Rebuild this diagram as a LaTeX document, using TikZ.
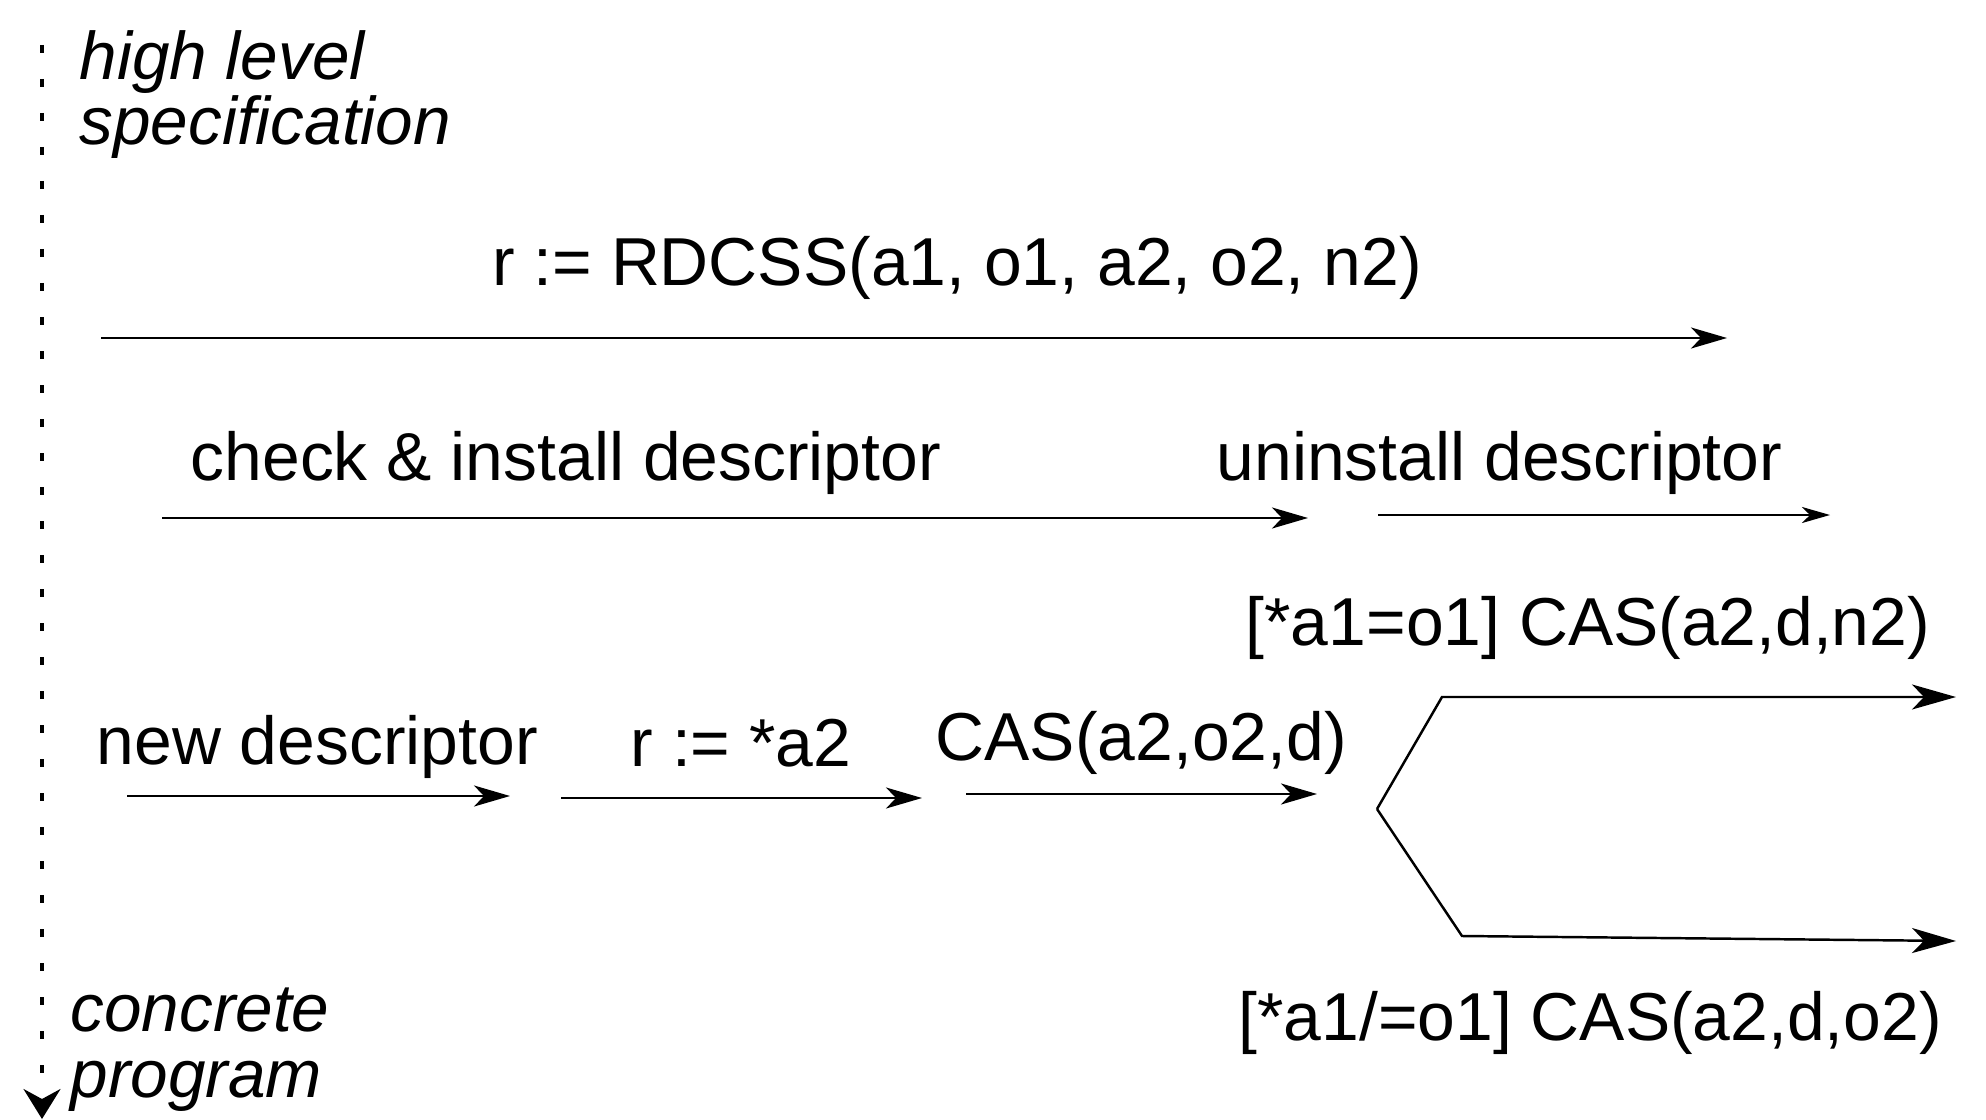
\documentclass[tikz,border=0pt]{standalone}
\usepackage{fontspec}
\setmainfont{Liberation Sans}
\usetikzlibrary{arrows.meta}

\begin{document}
\begin{tikzpicture}[
        lbl/.style={inner sep=0pt, anchor=base west, font=\fontsize{19.3}{22}\selectfont},
        side/.style={inner sep=0pt, anchor=base west, align=left, font=\fontsize{19.2}{18.5}\selectfont\itshape},
        arrow/.style={-{Stealth[length=3.6mm, width=2.1mm, inset=1mm]}, line width=0.7pt},
        small/.style={-{Stealth[length=2.8mm, width=1.6mm, inset=0.8mm]}, line width=0.6pt},
        fork/.style={-{Stealth[length=4.4mm, width=2.5mm, inset=1.2mm]}, line width=0.7pt},
        axis/.style={-{Stealth[length=3mm, width=3.7mm, inset=1mm]}, line width=0.9pt, dash pattern=on 0.8mm off 2.6mm}
      ]
        \useasboundingbox (0, 0) rectangle (19.86, 11.19);
        \coordinate (top) at (0.42, 10.74);
        \coordinate (bottom) at (0.42, 0);
        \draw[axis] (top) -- (bottom);
        \node[side] (spec) at (0.79, 9.74) {high level\\specification};
        \node[side] (concrete) at (0.70, 0.22) {concrete\\program};

        \node[lbl, anchor=base] (rdcss) at (9.57, 8.34) {r := RDCSS(a1, o1, a2, o2, n2)};
        \coordinate (rdcssA) at (1.01, 7.81);
        \coordinate (rdcssB) at (17.27, 7.81);
        \draw[arrow] (rdcssA) -- (rdcssB);

        \node[lbl] (install) at (1.90, 6.39) {check \& install descriptor};
        \node[lbl] (uninstall) at (12.16, 6.39) {uninstall descriptor};
        \coordinate (installA) at (1.62, 6.01);
        \coordinate (installB) at (13.08, 6.01);
        \coordinate (uninstallA) at (13.78, 6.04);
        \coordinate (uninstallB) at (18.30, 6.04);
        \draw[arrow] (installA) -- (installB);
        \draw[small] (uninstallA) -- (uninstallB);

        \node[lbl] (newdesc) at (0.96, 3.55) {new descriptor};
        \node[lbl] (read) at (6.30, 3.53) {r := *a2};
        \node[lbl] (casd) at (9.35, 3.59) {CAS(a2,o2,d)};
        \node[lbl] (casn) at (12.45, 4.74) {[*a1=o1] CAS(a2,d,n2)};
        \node[lbl] (caso) at (12.38, 0.79) {[*a1/=o1] CAS(a2,d,o2)};
        \coordinate (newdescA) at (1.27, 3.23);
        \coordinate (newdescB) at (5.10, 3.23);
        \coordinate (readA) at (5.61, 3.21);
        \coordinate (readB) at (9.22, 3.21);
        \coordinate (casdA) at (9.66, 3.25);
        \coordinate (casdB) at (13.17, 3.25);
        \draw[arrow] (newdescA) -- (newdescB);
        \draw[arrow] (readA) -- (readB);
        \draw[arrow] (casdA) -- (casdB);

        \coordinate (split) at (13.77, 3.10);
        \coordinate (casnBend) at (14.42, 4.22);
        \coordinate (casnB) at (19.56, 4.22);
        \coordinate (casoBend) at (14.62, 1.83);
        \coordinate (casoB) at (19.56, 1.78);
        \draw[fork] (split) -- (casnBend) -- (casnB);
        \draw[fork] (split) -- (casoBend) -- (casoB);
      \end{tikzpicture}
\end{document}
